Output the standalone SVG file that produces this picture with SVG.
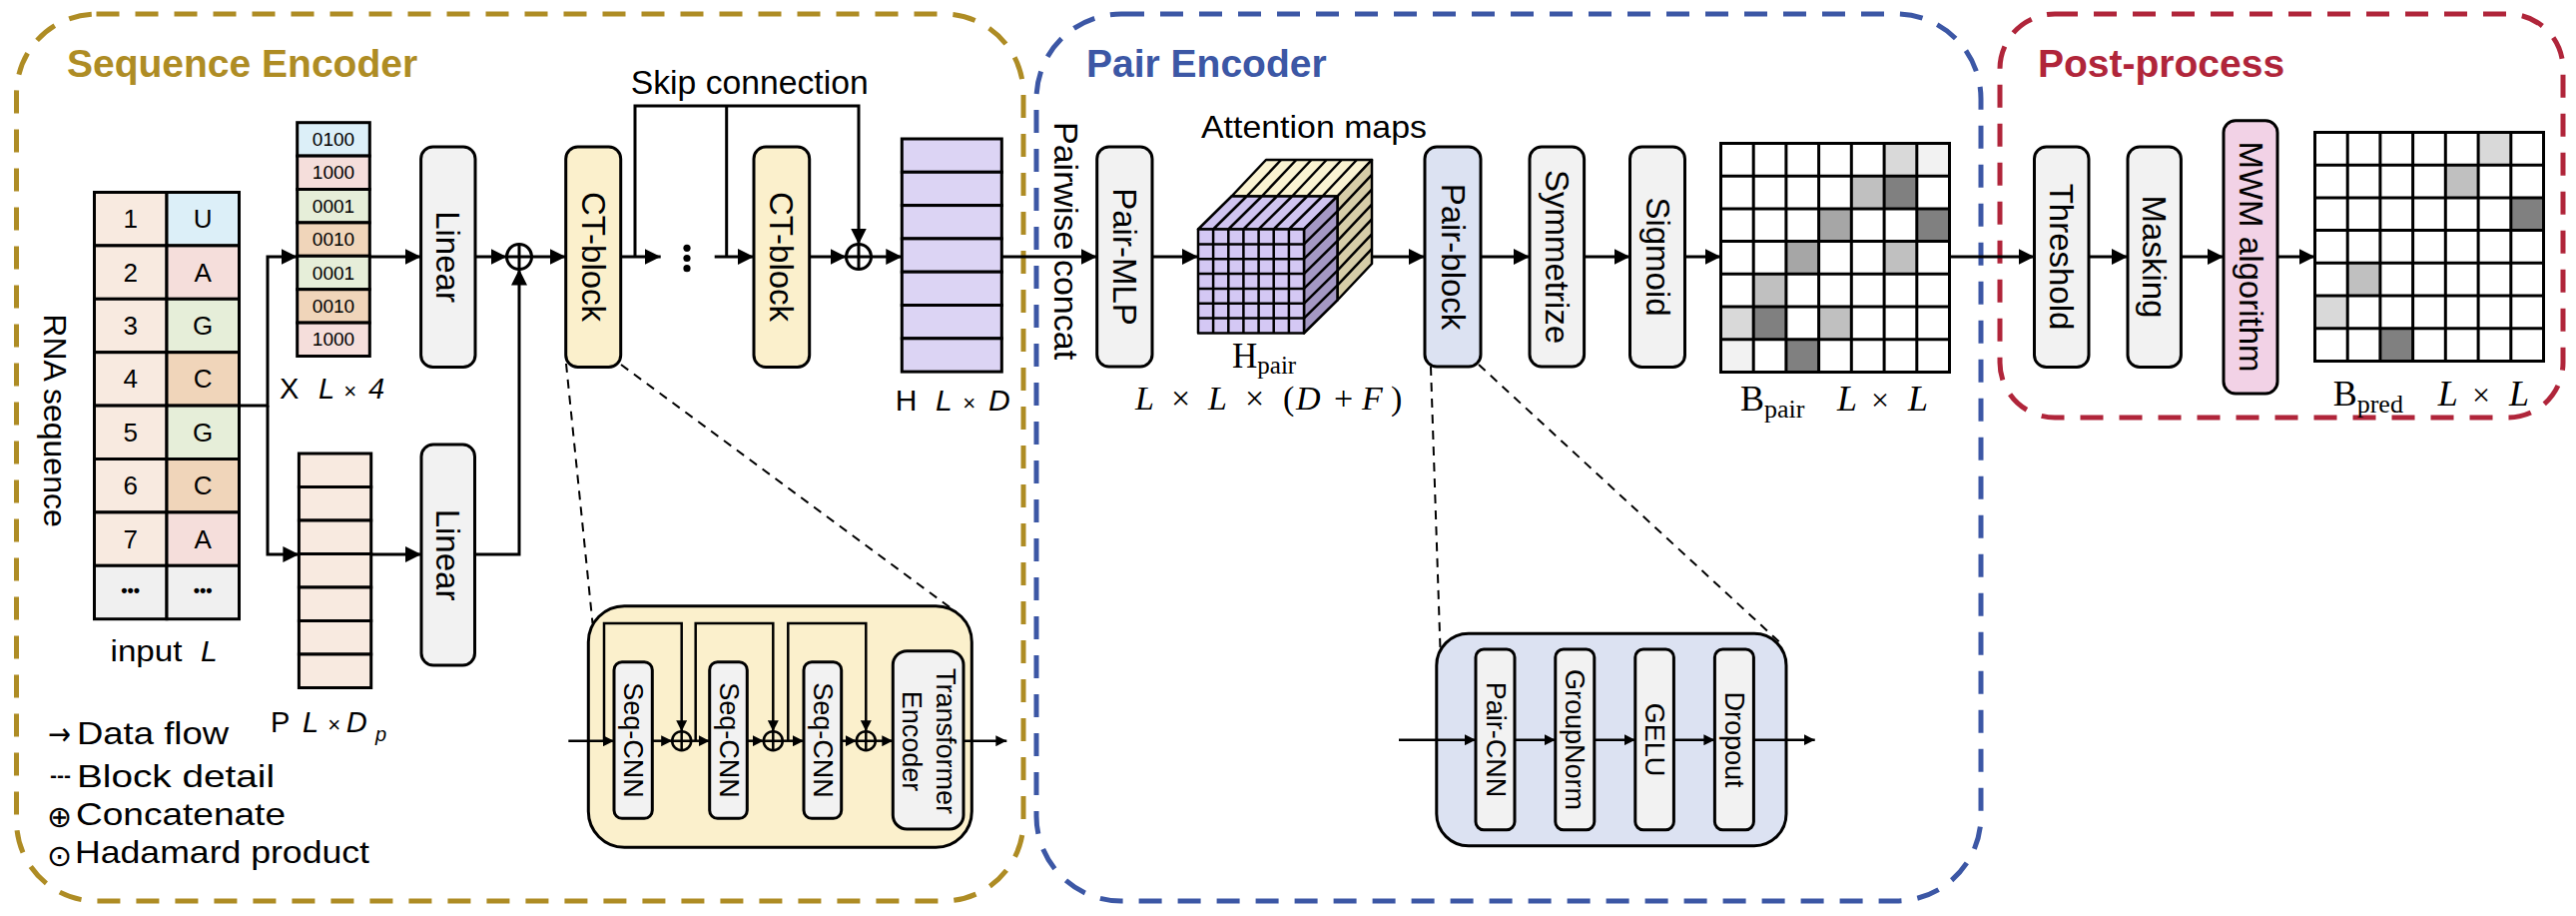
<svg xmlns="http://www.w3.org/2000/svg" width="2580" height="917" viewBox="0 0 2580 917">
<defs>
<style>
text{font-family:"Liberation Sans",Arial,"DejaVu Sans",sans-serif;fill:#000}
.serif{font-family:"Liberation Serif","Times New Roman",serif}
.sym{font-family:"DejaVu Sans",sans-serif}
.it{font-style:italic}
.box{stroke:#000;stroke-width:3}
.gray{fill:#F2F2F2}
.yel{fill:#FBF0CC}
.pb{fill:#DCE2F2}
.ln{stroke:#000;stroke-width:3;fill:none}
.sl{stroke:#000;stroke-width:2.5;fill:none}
.dash{stroke:#000;stroke-width:2;fill:none;stroke-dasharray:9 7}
.v{text-anchor:middle;dominant-baseline:central;font-size:33px}
.vs{text-anchor:middle;dominant-baseline:central;font-size:27px}
.c{text-anchor:middle;dominant-baseline:central}
.hdr{font-weight:bold;font-size:39px}
.frame{fill:none;stroke-width:5;stroke-dasharray:23 16}
.grid{fill:none;stroke:#000;stroke-width:3}
.lab{font-size:30px}
.leg{font-size:32px}
</style>
<marker id="a" viewBox="0 0 10 10" refX="10" refY="5" markerWidth="16" markerHeight="16" markerUnits="userSpaceOnUse" orient="auto"><path d="M0,0L10,5L0,10z" fill="#000"/></marker>
<marker id="s" viewBox="0 0 10 10" refX="10" refY="5" markerWidth="11" markerHeight="11" markerUnits="userSpaceOnUse" orient="auto"><path d="M0,0L10,5L0,10z" fill="#000"/></marker>
</defs>
<rect width="2580" height="917" fill="#fff"/>

<!-- Frames -->
<g id="frame-seq">
<rect class="frame" x="16.5" y="14" width="1008.5" height="888" rx="80" stroke="#AE8C24"/>
<text class="hdr" x="67" y="77" style="fill:#AE8C24">Sequence Encoder</text>
</g>
<g id="frame-pair">
<rect class="frame" x="1038" y="14" width="946" height="888" rx="85" stroke="#3C57A5"/>
<text class="hdr" x="1088" y="77" style="fill:#3C57A5">Pair Encoder</text>
</g>
<g id="frame-post">
<rect class="frame" x="2003" y="14" width="564" height="404" rx="55" stroke="#B0253A"/>
<text class="hdr" x="2041" y="77" style="fill:#B0253A">Post-process</text>
</g>

<!-- RNA table -->
<g id="rna-table">
<g class="box">
<rect x="94.5" y="192.5" width="72.5" height="53.4" fill="#F8EAE0"/><rect x="167" y="192.5" width="72.5" height="53.4" fill="#DCEFF8"/>
<rect x="94.5" y="245.9" width="72.5" height="53.4" fill="#F8EAE0"/><rect x="167" y="245.9" width="72.5" height="53.4" fill="#F5DEDB"/>
<rect x="94.5" y="299.3" width="72.5" height="53.4" fill="#F8EAE0"/><rect x="167" y="299.3" width="72.5" height="53.4" fill="#E6EED9"/>
<rect x="94.5" y="352.7" width="72.5" height="53.4" fill="#F8EAE0"/><rect x="167" y="352.7" width="72.5" height="53.4" fill="#F0D5BA"/>
<rect x="94.5" y="406.1" width="72.5" height="53.4" fill="#F8EAE0"/><rect x="167" y="406.1" width="72.5" height="53.4" fill="#E6EED9"/>
<rect x="94.5" y="459.5" width="72.5" height="53.4" fill="#F8EAE0"/><rect x="167" y="459.5" width="72.5" height="53.4" fill="#F0D5BA"/>
<rect x="94.5" y="512.9" width="72.5" height="53.4" fill="#F8EAE0"/><rect x="167" y="512.9" width="72.5" height="53.4" fill="#F5DEDB"/>
<rect x="94.5" y="566.3" width="72.5" height="53.4" fill="#F0F0F0"/><rect x="167" y="566.3" width="72.5" height="53.4" fill="#F0F0F0"/>
</g>
<g font-size="26">
<text class="c" x="130.7" y="219.2">1</text><text class="c" x="203.2" y="219.2">U</text>
<text class="c" x="130.7" y="272.6">2</text><text class="c" x="203.2" y="272.6">A</text>
<text class="c" x="130.7" y="326">3</text><text class="c" x="203.2" y="326">G</text>
<text class="c" x="130.7" y="379.4">4</text><text class="c" x="203.2" y="379.4">C</text>
<text class="c" x="130.7" y="432.8">5</text><text class="c" x="203.2" y="432.8">G</text>
<text class="c" x="130.7" y="486.2">6</text><text class="c" x="203.2" y="486.2">C</text>
<text class="c" x="130.7" y="539.6">7</text><text class="c" x="203.2" y="539.6">A</text>
<text class="c" x="130.7" y="591" font-size="18" font-weight="bold">•••</text><text class="c" x="203.2" y="591" font-size="18" font-weight="bold">•••</text>
</g>
<text class="c" font-size="32" transform="translate(55,421) rotate(90)">RNA sequence</text>
<text class="lab" x="110.5" y="662"><tspan textLength="72" lengthAdjust="spacingAndGlyphs">input</tspan><tspan class="it" x="201">L</tspan></text>
</g>

<!-- One-hot X -->
<g id="onehot-x">
<g class="box">
<rect x="297.7" y="122.7" width="72.6" height="33.4" fill="#DCEFF8"/>
<rect x="297.7" y="156.1" width="72.6" height="33.4" fill="#F5DEDB"/>
<rect x="297.7" y="189.5" width="72.6" height="33.4" fill="#E6EED9"/>
<rect x="297.7" y="222.9" width="72.6" height="33.4" fill="#F0D5BA"/>
<rect x="297.7" y="256.3" width="72.6" height="33.4" fill="#E6EED9"/>
<rect x="297.7" y="289.7" width="72.6" height="33.4" fill="#F0D5BA"/>
<rect x="297.7" y="323.1" width="72.6" height="33.4" fill="#F5DEDB"/>
</g>
<g font-size="19">
<text class="c" x="334" y="139.4">0100</text>
<text class="c" x="334" y="172.8">1000</text>
<text class="c" x="334" y="206.2">0001</text>
<text class="c" x="334" y="239.6">0010</text>
<text class="c" x="334" y="273">0001</text>
<text class="c" x="334" y="306.4">0010</text>
<text class="c" x="334" y="339.8">1000</text>
</g>
<text font-size="29" y="399"><tspan x="280">X</tspan><tspan class="it" x="319">L</tspan><tspan class="it" x="344" font-size="22">×</tspan><tspan class="it" x="369">4</tspan></text>
</g>

<!-- P column -->
<g id="pos-p">
<g class="box" fill="#F8EAE0">
<rect x="299.4" y="454" width="72.3" height="33.5"/>
<rect x="299.4" y="487.5" width="72.3" height="33.5"/>
<rect x="299.4" y="521" width="72.3" height="33.5"/>
<rect x="299.4" y="554.5" width="72.3" height="33.5"/>
<rect x="299.4" y="588" width="72.3" height="33.5"/>
<rect x="299.4" y="621.5" width="72.3" height="33.5"/>
<rect x="299.4" y="655" width="72.3" height="33.5"/>
</g>
<text font-size="29" y="733"><tspan x="271">P</tspan><tspan class="it" x="303">L</tspan><tspan class="it" x="328" font-size="22">×</tspan><tspan class="it" x="346.7">D</tspan><tspan class="it" font-size="20" x="376" dy="9">p</tspan></text>
</g>

<g id="linear1"><rect class="box gray" x="421.6" y="147" width="54.4" height="220.5" rx="12"/><text class="v" transform="translate(448.8,257) rotate(90)">Linear</text></g>
<g id="linear2"><rect class="box gray" x="422" y="445" width="53.5" height="221" rx="12"/><text class="v" transform="translate(448.8,555.5) rotate(90)">Linear</text></g>
<g id="ct-block-1"><rect class="box yel" x="566.7" y="147" width="55" height="220.5" rx="12"/><text class="v" transform="translate(594.2,257) rotate(90)">CT-block</text></g>
<g id="ct-block-2"><rect class="box yel" x="755" y="147" width="55.7" height="220.5" rx="12"/><text class="v" transform="translate(782.8,257) rotate(90)">CT-block</text></g>

<g id="h-column">
<g class="box" fill="#DCD4F4">
<rect x="903.3" y="139" width="100" height="33.3"/>
<rect x="903.3" y="172.3" width="100" height="33.3"/>
<rect x="903.3" y="205.6" width="100" height="33.3"/>
<rect x="903.3" y="238.9" width="100" height="33.3"/>
<rect x="903.3" y="272.2" width="100" height="33.3"/>
<rect x="903.3" y="305.5" width="100" height="33.3"/>
<rect x="903.3" y="338.8" width="100" height="33.3"/>
</g>
<text font-size="30" y="410.7"><tspan x="896.7">H</tspan><tspan class="it" x="937">L</tspan><tspan class="it" x="964" font-size="22">×</tspan><tspan class="it" x="990">D</tspan></text>
</g>

<text id="skip-label" font-size="33" x="631.7" y="94.3" textLength="238" lengthAdjust="spacingAndGlyphs">Skip connection</text>

<!-- Pair encoder -->
<text id="pairwise-label" font-size="34" transform="translate(1068,122) rotate(90)" dominant-baseline="central">Pairwise concat</text>
<g id="pair-mlp"><rect class="box gray" x="1098.7" y="147" width="55.3" height="220" rx="12"/><text class="v" transform="translate(1126.4,257) rotate(90)">Pair-MLP</text></g>

<g id="cube">
<text font-size="32" x="1203" y="138" textLength="226" lengthAdjust="spacingAndGlyphs">Attention maps</text>
<g stroke="#000" stroke-width="2.5" stroke-linejoin="round">
<polygon points="1233.5,196.5 1339.5,196.5 1374,160 1268,160" fill="#FAF3D2"/>
<polygon points="1339.5,196.5 1374,160 1374,264 1339.5,300.5" fill="#D6CDA8"/>
<path d="M1248.6,196.5L1283.1,160M1263.8,196.5L1298.3,160M1278.9,196.5L1313.4,160M1294.1,196.5L1328.6,160M1309.2,196.5L1343.7,160M1324.4,196.5L1358.9,160M1339.5,211.4L1374,174.9M1339.5,226.2L1374,189.7M1339.5,241.1L1374,204.6M1339.5,255.9L1374,219.4M1339.5,270.8L1374,234.3M1339.5,285.6L1374,249.1" fill="none"/>
<polygon points="1200,229.5 1306,229.5 1339.5,196.5 1233.5,196.5" fill="#CFC4F0"/>
<polygon points="1306,229.5 1339.5,196.5 1339.5,300.5 1306,333.5" fill="#A498C4"/>
<path d="M1215.1,229.5L1248.6,196.5M1230.3,229.5L1263.8,196.5M1245.4,229.5L1278.9,196.5M1260.6,229.5L1294.1,196.5M1275.7,229.5L1309.2,196.5M1290.9,229.5L1324.4,196.5M1306,244.4L1339.5,211.4M1306,259.2L1339.5,226.2M1306,274.1L1339.5,241.1M1306,288.9L1339.5,255.9M1306,303.8L1339.5,270.8M1306,318.6L1339.5,285.6" fill="none"/>
<rect x="1200" y="229.5" width="106" height="104" fill="#D4C8F4"/>
<path d="M1215.1,229.5V333.5M1230.3,229.5V333.5M1245.4,229.5V333.5M1260.6,229.5V333.5M1275.7,229.5V333.5M1290.9,229.5V333.5M1200,244.4H1306M1200,259.2H1306M1200,274.1H1306M1200,288.9H1306M1200,303.8H1306M1200,318.6H1306" fill="none"/>
</g>
<text class="serif" x="1234" y="368" font-size="35">H<tspan font-size="25" dy="6">pair</tspan></text>
<text class="serif" font-size="34" y="410"><tspan class="it" x="1137">L</tspan><tspan x="1173">×</tspan><tspan class="it" x="1210">L</tspan><tspan x="1247">×</tspan><tspan x="1285">(</tspan><tspan class="it" x="1298">D</tspan><tspan x="1336">+</tspan><tspan class="it" x="1364">F</tspan><tspan x="1393">)</tspan></text>
</g>

<g id="pair-block"><rect class="box pb" x="1427" y="147" width="56" height="220" rx="12"/><text class="v" transform="translate(1455,257) rotate(90)">Pair-block</text></g>
<g id="symmetrize"><rect class="box gray" x="1532" y="147" width="54.6" height="220" rx="12"/><text class="v" transform="translate(1559.3,257) rotate(90)">Symmetrize</text></g>
<g id="sigmoid"><rect class="box gray" x="1632.5" y="147" width="55" height="220.5" rx="12"/><text class="v" transform="translate(1660,257) rotate(90)">Sigmoid</text></g>

<g id="b-pair">
<rect x="1723.5" y="143.5" width="229" height="229" fill="#fff"/>
<rect x="1887.1" y="143.5" width="32.7" height="32.7" fill="#D9D9D9"/>
<rect x="1919.8" y="143.5" width="32.7" height="32.7" fill="#F2F2F2"/>
<rect x="1854.3" y="176.2" width="32.7" height="32.7" fill="#C0C0C0"/>
<rect x="1887.1" y="176.2" width="32.7" height="32.7" fill="#808080"/>
<rect x="1821.6" y="208.9" width="32.7" height="32.7" fill="#A6A6A6"/>
<rect x="1919.8" y="208.9" width="32.7" height="32.7" fill="#808080"/>
<rect x="1788.9" y="241.6" width="32.7" height="32.7" fill="#A6A6A6"/>
<rect x="1887.1" y="241.6" width="32.7" height="32.7" fill="#C0C0C0"/>
<rect x="1756.2" y="274.3" width="32.7" height="32.7" fill="#C0C0C0"/>
<rect x="1723.5" y="307.1" width="32.7" height="32.7" fill="#D9D9D9"/>
<rect x="1756.2" y="307.1" width="32.7" height="32.7" fill="#808080"/>
<rect x="1821.6" y="307.1" width="32.7" height="32.7" fill="#C0C0C0"/>
<rect x="1723.5" y="339.8" width="32.7" height="32.7" fill="#F2F2F2"/>
<rect x="1788.9" y="339.8" width="32.7" height="32.7" fill="#808080"/>
<path class="grid" d="M1723.5,143.5H1952.5V372.5H1723.5Z M1756.2,143.5V372.5M1788.9,143.5V372.5M1821.6,143.5V372.5M1854.3,143.5V372.5M1887.1,143.5V372.5M1919.8,143.5V372.5M1723.5,176.2H1952.5M1723.5,208.9H1952.5M1723.5,241.6H1952.5M1723.5,274.3H1952.5M1723.5,307.1H1952.5M1723.5,339.8H1952.5"/>
<text class="serif" x="1743" y="411" font-size="36">B<tspan font-size="26" dy="7">pair</tspan></text>
<text class="serif" font-size="36" y="411"><tspan class="it" x="1840">L</tspan><tspan x="1874" font-size="32">×</tspan><tspan class="it" x="1911">L</tspan></text>
</g>

<!-- Post-process -->
<g id="threshold"><rect class="box gray" x="2037.5" y="147" width="54.5" height="220.5" rx="12"/><text class="v" transform="translate(2064.8,257) rotate(90)">Threshold</text></g>
<g id="masking"><rect class="box gray" x="2131" y="147" width="53.4" height="220.5" rx="12"/><text class="v" transform="translate(2157.7,257) rotate(90)">Masking</text></g>
<g id="mwm"><rect class="box" fill="#F2D2E6" x="2227" y="120.7" width="54" height="273.3" rx="12"/><text class="v" transform="translate(2254,257) rotate(90)">MWM algorithm</text></g>

<g id="b-pred">
<rect x="2318.5" y="132.5" width="229" height="229" fill="#fff"/>
<rect x="2482.1" y="132.5" width="32.7" height="32.7" fill="#D9D9D9"/>
<rect x="2449.3" y="165.2" width="32.7" height="32.7" fill="#C0C0C0"/>
<rect x="2514.8" y="197.9" width="32.7" height="32.7" fill="#808080"/>
<rect x="2351.2" y="263.3" width="32.7" height="32.7" fill="#C0C0C0"/>
<rect x="2318.5" y="296.1" width="32.7" height="32.7" fill="#D9D9D9"/>
<rect x="2383.9" y="328.8" width="32.7" height="32.7" fill="#808080"/>
<path class="grid" d="M2318.5,132.5H2547.5V361.5H2318.5Z M2351.2,132.5V361.5M2383.9,132.5V361.5M2416.6,132.5V361.5M2449.3,132.5V361.5M2482.1,132.5V361.5M2514.8,132.5V361.5M2318.5,165.2H2547.5M2318.5,197.9H2547.5M2318.5,230.6H2547.5M2318.5,263.3H2547.5M2318.5,296.1H2547.5M2318.5,328.8H2547.5"/>
<text class="serif" x="2336.7" y="406" font-size="36">B<tspan font-size="26" dy="7">pred</tspan></text>
<text class="serif" font-size="36" y="406"><tspan class="it" x="2441.7">L</tspan><tspan x="2476" font-size="32">×</tspan><tspan class="it" x="2513">L</tspan></text>
</g>

<!-- CT-block detail -->
<g id="ct-detail">
<rect class="box yel" x="589.3" y="606.7" width="384" height="241.6" rx="36"/>
<rect class="box gray" x="615" y="662.7" width="38.3" height="156.6" rx="8"/>
<rect class="box gray" x="710.7" y="662.7" width="37.6" height="156.6" rx="8"/>
<rect class="box gray" x="805" y="662.7" width="37.7" height="156.6" rx="8"/>
<rect class="box gray" x="894.3" y="651.7" width="70.7" height="178.3" rx="14"/>
<text class="vs" transform="translate(634.2,741) rotate(90)">Seq-CNN</text>
<text class="vs" transform="translate(729.5,741) rotate(90)">Seq-CNN</text>
<text class="vs" transform="translate(823.9,741) rotate(90)">Seq-CNN</text>
<text class="vs" transform="translate(929.7,742) rotate(90)"><tspan x="0" y="-17">Transformer</tspan><tspan x="0" y="17">Encoder</tspan></text>
<g class="sl"><circle cx="682.7" cy="741.7" r="9.5"/><path d="M673.2,741.7H692.2M682.7,732.2V751.2"/>
<circle cx="774.3" cy="741.7" r="9.5"/><path d="M764.8,741.7H783.8M774.3,732.2V751.2"/>
<circle cx="867.3" cy="741.7" r="9.5"/><path d="M857.8,741.7H876.8M867.3,732.2V751.2"/></g>
</g>

<!-- Pair-block detail -->
<g id="pair-detail">
<rect class="box pb" x="1438.8" y="634.3" width="350.2" height="212.4" rx="32"/>
<rect class="box gray" x="1478" y="650" width="39" height="180.7" rx="8"/>
<rect class="box gray" x="1557.8" y="650" width="39" height="180.7" rx="8"/>
<rect class="box gray" x="1637.8" y="650" width="38.6" height="180.7" rx="8"/>
<rect class="box gray" x="1717.4" y="650" width="39" height="180.7" rx="8"/>
<text class="vs" transform="translate(1497.5,740.5) rotate(90)">Pair-CNN</text>
<text class="vs" transform="translate(1577.3,740.5) rotate(90)">GroupNorm</text>
<text class="vs" transform="translate(1657.1,740.5) rotate(90)">GELU</text>
<text class="vs" transform="translate(1736.9,740.5) rotate(90)">Dropout</text>
</g>

<!-- Legend -->
<g id="legend" class="leg">
<text class="sym" x="48" y="746" font-size="32" textLength="23" lengthAdjust="spacingAndGlyphs">→</text><text x="77" y="745" textLength="152" lengthAdjust="spacingAndGlyphs">Data flow</text>
<text x="50" y="786" textLength="21" lengthAdjust="spacingAndGlyphs">---</text><text x="77" y="788" textLength="198" lengthAdjust="spacingAndGlyphs">Block detail</text>
<text class="sym" x="47" y="828" font-size="30">⊕</text><text x="76" y="826" textLength="210" lengthAdjust="spacingAndGlyphs">Concatenate</text>
<text class="sym" x="47" y="867" font-size="30">⊙</text><text x="75" y="864" textLength="295" lengthAdjust="spacingAndGlyphs">Hadamard product</text>
</g>

<!-- Connectors -->
<g id="connectors">
<g class="ln">
<path d="M239.5,406.1H268V257H297.7" marker-end="url(#a)"/>
<path d="M268,406.1V555H299.4" marker-end="url(#a)"/>
<path d="M370.3,257H421.6" marker-end="url(#a)"/>
<path d="M476,257H507.5" marker-end="url(#a)"/>
<circle cx="520" cy="257" r="12.5"/><path d="M507.5,257H532.5M520,244.5V269.5"/>
<path d="M532.5,257H566.7" marker-end="url(#a)"/>
<path d="M371.7,555H422" marker-end="url(#a)"/>
<path d="M475.5,555H520V269.5" marker-end="url(#a)"/>
<path d="M621.7,257H661.7" marker-end="url(#a)"/>
<path d="M715.7,257H755" marker-end="url(#a)"/>
<path d="M636,257V106H860V244.5" marker-end="url(#a)"/>
<path d="M727.7,106V257"/>
<path d="M810.7,257H847.5" marker-end="url(#a)"/>
<circle cx="860" cy="257" r="12.5"/><path d="M847.5,257H872.5M860,244.5V269.5"/>
<path d="M872.5,257H903.3" marker-end="url(#a)"/>
<path d="M1003.3,257H1098.7" marker-end="url(#a)"/>
<path d="M1154,257H1200" marker-end="url(#a)"/>
<path d="M1374,257H1427" marker-end="url(#a)"/>
<path d="M1483,257H1532" marker-end="url(#a)"/>
<path d="M1586.6,257H1632.5" marker-end="url(#a)"/>
<path d="M1687.5,257H1723.5" marker-end="url(#a)"/>
<path d="M1952.5,257H2037.5" marker-end="url(#a)"/>
<path d="M2092,257H2131" marker-end="url(#a)"/>
<path d="M2184.4,257H2227" marker-end="url(#a)"/>
<path d="M2281,257H2318.5" marker-end="url(#a)"/>
</g>
<g fill="#000"><circle cx="688" cy="248.3" r="3.6"/><circle cx="688" cy="258.5" r="3.6"/><circle cx="688" cy="268.7" r="3.6"/></g>
<g class="sl">
<path d="M569.3,741.7H615" marker-end="url(#s)"/>
<path d="M605,741.7V624H682.7V732.2" marker-end="url(#s)"/>
<path d="M653.3,741.7H673.2" marker-end="url(#s)"/>
<path d="M692.2,741.7H710.7" marker-end="url(#s)"/>
<path d="M696.7,741.7V624H774.3V732.2" marker-end="url(#s)"/>
<path d="M748.3,741.7H764.8" marker-end="url(#s)"/>
<path d="M783.8,741.7H805" marker-end="url(#s)"/>
<path d="M789.3,741.7V624H867.3V732.2" marker-end="url(#s)"/>
<path d="M842.7,741.7H857.8" marker-end="url(#s)"/>
<path d="M876.8,741.7H894.3" marker-end="url(#s)"/>
<path d="M965,741.7H1008.3" marker-end="url(#s)"/>
<path d="M1401,740.7H1478" marker-end="url(#s)"/>
<path d="M1517,740.7H1557.8" marker-end="url(#s)"/>
<path d="M1596.8,740.7H1637.8" marker-end="url(#s)"/>
<path d="M1676.4,740.7H1717.4" marker-end="url(#s)"/>
<path d="M1756.4,740.7H1817.7" marker-end="url(#s)"/>
</g>
<g class="dash">
<path d="M567,364L593.5,624"/>
<path d="M622,365L958,613"/>
<path d="M1433,367L1442.5,650"/>
<path d="M1481,365L1782.5,643"/>
</g>
</g>
</svg>
